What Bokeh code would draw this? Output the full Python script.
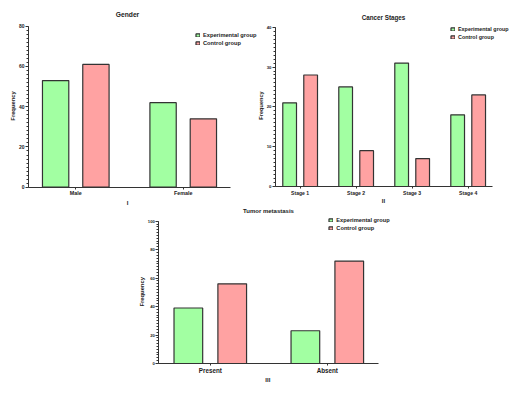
import math
from bokeh.plotting import figure
from bokeh.models import (Range1d, FixedTicker, SingleIntervalTicker, Legend,
                          LegendItem, Spacer, ColumnDataSource, Label)
from bokeh.transform import dodge
from bokeh.layouts import column, row
from bokeh.embed import file_html
from bokeh.resources import INLINE

# ---- data ----
gender_cats = ["Male", "Female"]
gender_exp = [53, 42]
gender_ctl = [61, 34]

stage_cats = ["Stage 1", "Stage 2", "Stage 3", "Stage 4"]
stage_exp = [21, 25, 31, 18]
stage_ctl = [28, 9, 7, 23]

meta_cats = ["Present", "Absent"]
meta_exp = [39, 23]
meta_ctl = [56, 72]

series_names = ["Experimental group", "Control group"]

GREEN = "#a2ffa2"
RED = "#ffa2a2"
EDGE = "#333333"
TXT = "#222222"
FONT = "Liberation Sans"
PAD = 0.44      # category padding on each side of the x axis
DODGE = 0.1875  # half distance between the two bars of a group
BARW = 0.245


def build(cats, exp, ctl, ymax, yint, title, roman, W, H, ax,
          title_px, freq_px, roman_px, legend_px, fs):
    ax_left, ax_right, ax_bottom, ax_top = ax
    n = len(cats)
    x0, x1 = -PAD, n - 1 + PAD
    sx = (ax_right - ax_left) / (x1 - x0)
    sy = (ax_bottom - ax_top) / ymax
    xr = Range1d(x0 - ax_left / sx, x1 + (W - ax_right) / sx)
    yr = Range1d(0 - (H - ax_bottom) / sy, ymax + ax_top / sy)

    def px(u):
        return xr.start + u / sx

    def py(v):
        return yr.end - v / sy

    src = ColumnDataSource(dict(x=list(range(n)), exp=exp, ctl=ctl))
    p = figure(width=W, height=H, output_backend="svg", toolbar_location=None,
               tools="", x_range=xr, y_range=yr, title=None,
               min_border_left=0, min_border_right=0,
               min_border_top=0, min_border_bottom=0)
    p.outline_line_color = None
    p.background_fill_color = "white"
    p.border_fill_color = "white"
    p.xgrid.visible = False
    p.ygrid.visible = False

    r1 = p.vbar(x=dodge("x", -DODGE), top="exp", width=BARW, source=src,
                fill_color=GREEN, line_color=EDGE, line_width=1.2)
    r2 = p.vbar(x=dodge("x", DODGE), top="ctl", width=BARW, source=src,
                fill_color=RED, line_color=EDGE, line_width=1.2)

    ya = p.yaxis[0]
    ya.fixed_location = x0
    ya.bounds = (0, ymax)
    ya.ticker = SingleIntervalTicker(interval=yint, num_minor_ticks=10)
    ya.axis_line_color = EDGE
    ya.major_tick_line_color = EDGE
    ya.minor_tick_line_color = EDGE
    ya.major_tick_out = 3
    ya.major_tick_in = 0
    ya.minor_tick_out = 2
    ya.minor_tick_in = 0
    ya.major_label_text_font = FONT
    ya.major_label_text_font_size = fs["ytick"]
    ya.major_label_text_font_style = "bold"
    ya.major_label_text_color = TXT
    ya.major_label_standoff = 1

    xa = p.xaxis[0]
    xa.fixed_location = 0
    xa.bounds = (x0, x1)
    xa.ticker = FixedTicker(ticks=list(range(n)))
    xa.major_label_overrides = {i: c for i, c in enumerate(cats)}
    xa.axis_line_color = EDGE
    xa.major_tick_line_color = EDGE
    xa.major_tick_out = 2
    xa.major_tick_in = 0
    xa.minor_tick_out = 0
    xa.minor_tick_in = 0
    xa.major_label_text_font = FONT
    xa.major_label_text_font_size = fs["xtick"]
    xa.major_label_text_font_style = "bold"
    xa.major_label_text_color = TXT
    xa.major_label_standoff = 1

    def label(text, pos, size, angle=0.0):
        p.add_layout(Label(x=px(pos[0]), y=py(pos[1]), text=text,
                           angle=angle, text_align="center",
                           text_baseline="middle", text_font=FONT,
                           text_font_size=size, text_font_style="bold",
                           text_color=TXT))

    label(title, title_px, fs["title"])
    label("Frequency", freq_px, fs["ylabel"], angle=math.pi / 2)
    label(roman, roman_px, fs["roman"])

    lx, ly = legend_px
    legend = Legend(items=[LegendItem(label=series_names[0], renderers=[r1]),
                           LegendItem(label=series_names[1], renderers=[r2])],
                    location=(lx, H - (ly + 11.5)), orientation="vertical",
                    glyph_width=5, glyph_height=4, label_height=7,
                    label_width=10, spacing=1, padding=0, margin=0,
                    label_standoff=3, label_text_font=FONT,
                    label_text_font_size=fs["legend"],
                    label_text_font_style="bold", label_text_color=TXT,
                    border_line_color=None, background_fill_alpha=0)
    p.add_layout(legend)
    return p


p1 = build(gender_cats, gender_exp, gender_ctl, 80, 20, "Gender", "I",
           257, 207, (28, 230, 186.7, 25.7),
           (127, 14), (12.7, 105.5), (127, 202.3), (195, 34.7),
           dict(title="6.7px", ytick="5px", xtick="5.4px", ylabel="5.8px",
                roman="6px", legend="5.7px"))
p2 = build(stage_cats, stage_exp, stage_ctl, 40, 10, "Cancer Stages", "II",
           253, 207, (18, 235.3, 186, 26.7),
           (126, 16.7), (3.5, 105), (126, 200), (193, 29),
           dict(title="6.3px", ytick="4.3px", xtick="5.1px", ylabel="5.6px",
                roman="6px", legend="5.4px"))
p3 = build(meta_cats, meta_exp, meta_ctl, 100, 20, "Tumor metastasis", "III",
           288, 179, (46.3, 266.3, 156, 13.7),
           (156, 3.2), (29.7, 84.3), (155.3, 172), (216.3, 13),
           dict(title="6px", ytick="4.2px", xtick="6.3px", ylabel="5.8px",
                roman="6px", legend="5.7px"))

layout = column(row(p1, p2), row(Spacer(width=112, height=179), p3))
open("out.html", "w").write(file_html(layout, INLINE))
